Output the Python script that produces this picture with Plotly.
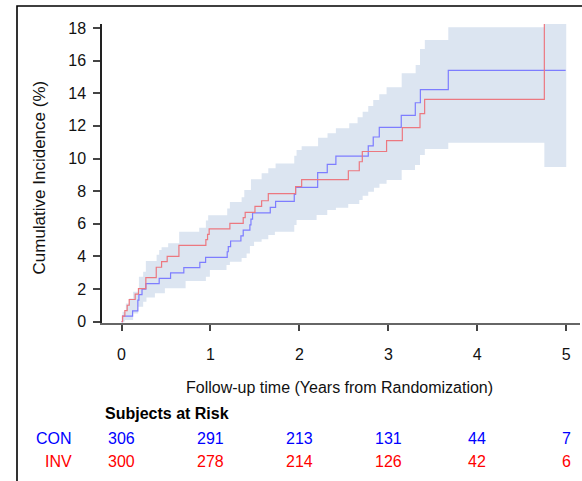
import plotly.graph_objects as go

# ---- data ----
con_t = [0, 0.011, 0.124, 0.183, 0.195, 0.23, 0.273, 0.423, 0.551, 0.70, 0.88, 0.945,
         1.188, 1.20, 1.226, 1.342, 1.368, 1.443, 1.455, 1.473, 1.672, 1.732, 1.942, 1.957,
         2.205, 2.313, 2.41, 2.774, 2.83, 2.898, 3.145, 3.303, 3.36, 3.674, 4.994]
con_y = [0, 0.33, 0.65, 1.31, 1.65, 1.98, 2.32, 2.65, 2.98, 3.31, 3.63, 3.94,
         4.28, 4.60, 4.94, 5.26, 5.61, 5.93, 6.28, 6.66, 7.0, 7.37, 7.8, 8.23,
         9.13, 9.64, 10.15, 10.77, 11.32, 11.91, 12.65, 13.42, 14.22, 15.41, 15.41]

inv_t = [0, 0.011, 0.037, 0.063, 0.086, 0.153, 0.19, 0.273, 0.39, 0.45, 0.513, 0.645,
         0.948, 0.967, 0.985, 1.218, 1.368, 1.39, 1.50, 1.575, 1.65, 1.957, 2.025,
         2.55, 2.673, 2.707, 2.98, 3.157, 3.356, 3.408, 4.754]
inv_y = [0, 0.33, 0.67, 1.0, 1.35, 1.68, 2.02, 2.69, 3.33, 3.67, 4.0, 4.67,
         5.02, 5.35, 5.68, 6.02, 6.37, 6.7, 7.06, 7.41, 7.84, 8.27, 8.71,
         9.25, 9.8, 10.43, 11.1, 11.89, 12.75, 13.63, 20.0]

band_up_t = [0, 0.011, 0.048, 0.086, 0.13, 0.195, 0.243, 0.273, 0.394, 0.423, 0.45, 0.524,
             0.648, 0.873, 0.948, 0.974, 1.188, 1.218, 1.35, 1.38, 1.455, 1.575, 1.65, 1.732,
             1.942, 1.968, 2.025, 2.21, 2.316, 2.41, 2.56, 2.654, 2.711, 2.774, 2.83, 2.898,
             2.98, 3.15, 3.307, 3.356, 3.41, 3.674, 4.754, 5.0]
band_up_y = [0, 0.6, 1.11, 1.42, 1.83, 2.75, 3.06, 3.71, 4.1, 4.39, 4.55, 4.8,
             5.51, 5.75, 6.2, 6.52, 6.94, 7.33, 7.62, 8.07, 8.72, 9.09, 9.4, 9.7,
             10.17, 10.52, 10.75, 11.28, 11.55, 11.85, 12.16, 12.53, 12.87, 13.22, 13.59, 13.94,
             14.37, 15.23, 15.74, 16.72, 17.27, 18.05, 20.0, 20.0]

band_lo_t = [0, 0.037, 0.13, 0.187, 0.243, 0.28, 0.375, 0.487, 0.72, 0.948, 0.993, 1.18,
             1.218, 1.35, 1.406, 1.443, 1.49, 1.575, 1.65, 1.724, 1.942, 1.968, 2.193,
             2.313, 2.41, 2.549, 2.673, 2.711, 2.774, 2.838, 2.9, 2.98, 3.15, 3.30, 3.356,
             3.41, 3.674, 4.754, 5.0]
band_lo_y = [0, 0.1, 0.5, 0.91, 1.21, 1.48, 1.73, 2.04, 2.48, 2.75, 3.16, 3.47,
             3.67, 3.9, 4.18, 4.63, 4.9, 5.04, 5.31, 5.51, 5.92, 6.23, 6.53,
             6.84, 6.98, 7.21, 7.45, 7.72, 7.96, 8.21, 8.45, 8.68, 9.29, 9.6, 10.21,
             10.58, 10.97, 9.48, 9.48]

risk_times = [0, 1, 2, 3, 4, 5]
risk_con = [306, 291, 213, 131, 44, 7]
risk_inv = [300, 278, 214, 126, 42, 6]
groups = ["CON", "INV"]
x_ticks = [0, 1, 2, 3, 4, 5]
y_ticks = [0, 2, 4, 6, 8, 10, 12, 14, 16, 18]

FONT = "Liberation Sans, Arial, sans-serif"
BAND = "rgb(220,229,241)"
BLUE_LINE = "rgb(125,125,255)"
RED_LINE = "rgb(236,120,128)"

fig = go.Figure()
fig.add_trace(go.Scatter(x=band_lo_t, y=band_lo_y, mode="lines", line=dict(width=0, shape="hv", color=BAND),
                         hoverinfo="skip", showlegend=False))
fig.add_trace(go.Scatter(x=band_up_t, y=band_up_y, mode="lines", line=dict(width=0, shape="hv", color=BAND),
                         fill="tonexty", fillcolor=BAND, hoverinfo="skip", showlegend=False))
fig.add_trace(go.Scatter(x=con_t, y=con_y, mode="lines", line=dict(width=1.2, shape="hv", color=BLUE_LINE),
                         name="CON", showlegend=False))
fig.add_trace(go.Scatter(x=inv_t, y=inv_y, mode="lines", line=dict(width=1.2, shape="hv", color=RED_LINE),
                         name="INV", showlegend=False))

L, R, T, B = 102, 2, 24, 158
W, H = 582, 481
pw, ph = W - L - R, H - T - B

def px_x(p):
    return (p - L) / pw

def px_y(p):
    return (H - B - p) / ph

annotations = []
annotations.append(dict(text="Cumulative Incidence (%)", textangle=-90, xref="paper", yref="paper",
                        x=px_x(38.5), y=px_y(178), xanchor="center", yanchor="middle", showarrow=False,
                        font=dict(family=FONT, size=17, color="#111")))
annotations.append(dict(text="Follow-up time (Years from Randomization)", xref="paper", yref="paper",
                        x=px_x(339), y=px_y(387), xanchor="center", yanchor="middle", showarrow=False,
                        font=dict(family=FONT, size=16, color="#111")))
annotations.append(dict(text="<b>Subjects at Risk</b>", xref="paper", yref="paper",
                        x=px_x(103), y=px_y(413), xanchor="left", yanchor="middle", showarrow=False,
                        font=dict(family=FONT, size=16, color="#000")))
row_y = {"CON": 438, "INV": 461}
row_col = {"CON": "#0000FF", "INV": "#FF0000"}
row_vals = {"CON": risk_con, "INV": risk_inv}
for g in groups:
    annotations.append(dict(text=g, xref="paper", yref="paper", x=px_x(74), y=px_y(row_y[g]),
                            xanchor="right", yanchor="middle", showarrow=False,
                            font=dict(family=FONT, size=16, color=row_col[g])))
    for t, v in zip(risk_times, row_vals[g]):
        annotations.append(dict(text=str(v), xref="x", yref="paper", x=t, y=px_y(row_y[g]),
                                xanchor="center", yanchor="middle", showarrow=False,
                                font=dict(family=FONT, size=16, color=row_col[g])))

shapes = [
    dict(type="rect", xref="paper", yref="paper", x0=px_x(17), x1=px_x(600), y0=px_y(6), y1=px_y(500),
         line=dict(color="#000", width=1.6), fillcolor="rgba(0,0,0,0)", layer="above"),
]

fig.update_layout(
    width=W, height=H, margin=dict(l=L, r=R, t=T, b=B),
    paper_bgcolor="white", plot_bgcolor="white",
    font=dict(family=FONT, size=16, color="#111"),
    annotations=annotations, shapes=shapes,
    xaxis=dict(range=[-0.22, 5.155], tickvals=x_ticks, ticktext=[str(v) for v in x_ticks],
               ticks="outside", ticklen=6, tickwidth=1.5, tickcolor="#444",
               showline=True, linecolor="#666", linewidth=2, showgrid=False, zeroline=False,
               ticklabelstandoff=10, tickfont=dict(family=FONT, size=16, color="#111")),
    yaxis=dict(range=[-0.09, 18.25], tickvals=y_ticks, ticktext=[str(v) for v in y_ticks],
               ticks="outside", ticklen=7, tickwidth=1.5, tickcolor="#444",
               showline=True, linecolor="#222", linewidth=1.5, showgrid=False, zeroline=False,
               ticklabelstandoff=4, tickfont=dict(family=FONT, size=16, color="#111")),
)

fig.write_html("out.html", config={"displayModeBar": False},
               post_script="document.body.style.margin='0px';")
